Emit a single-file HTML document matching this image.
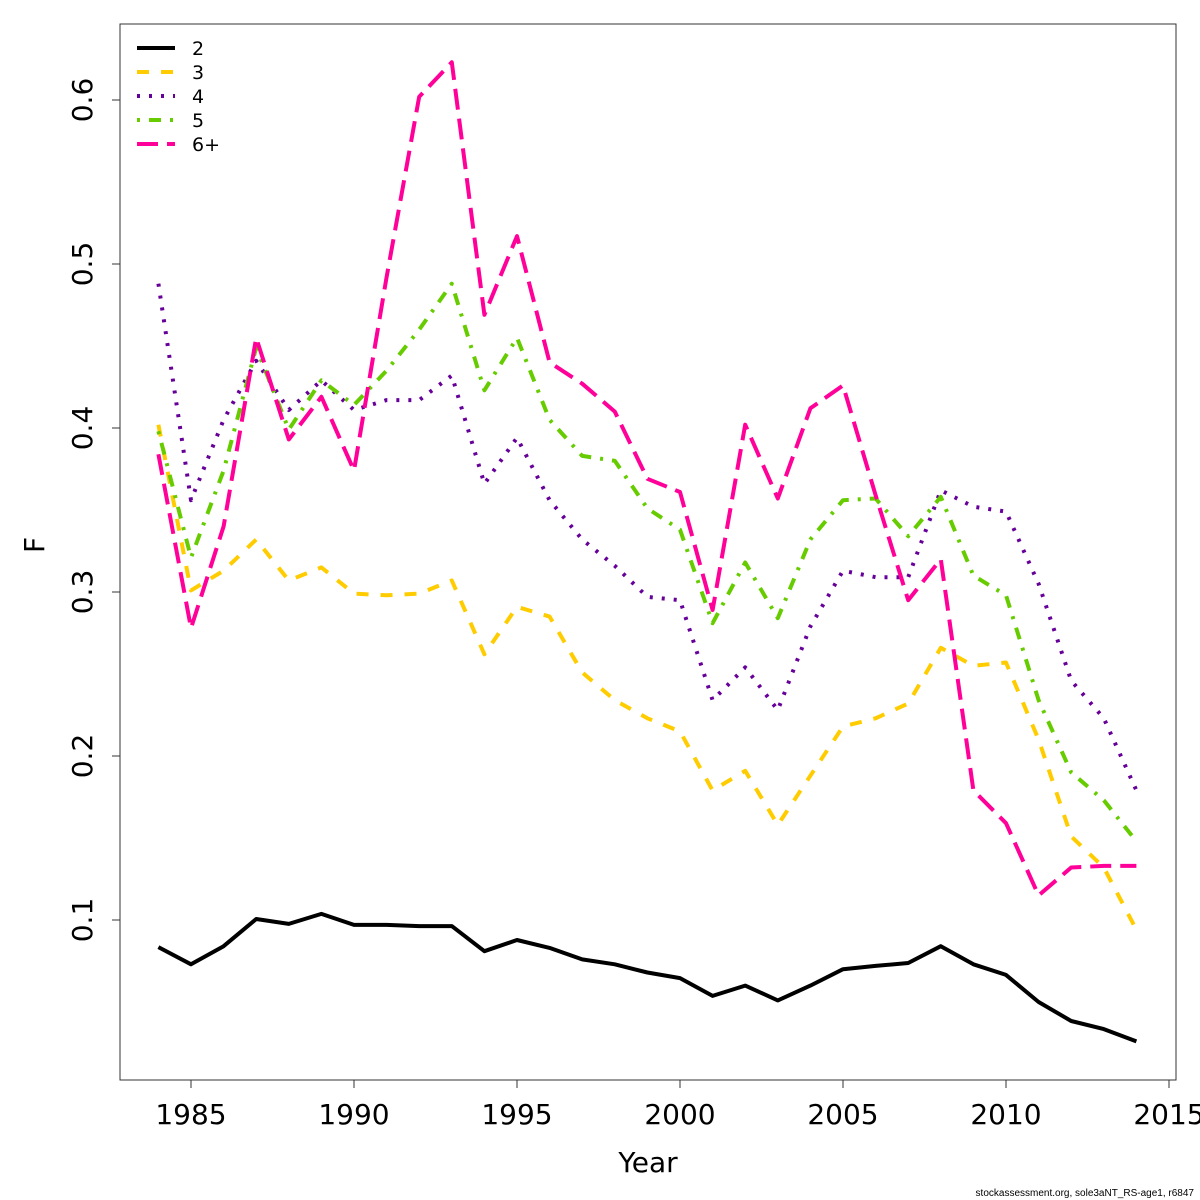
<!DOCTYPE html>
<html><head><meta charset="utf-8"><style>
html,body{margin:0;padding:0;background:#fff;}
svg{display:block;font-family:"DejaVu Sans","Liberation Sans",sans-serif;}
</style></head><body>
<svg id="chart" width="1200" height="1200" viewBox="0 0 1200 1200" xmlns="http://www.w3.org/2000/svg">
<rect x="120" y="24" width="1056" height="1056" fill="none" stroke="#333" stroke-width="1"/>
<g id="xaxis"></g>
<g id="yaxis"></g>
<g id="series"></g>
<text x="648" y="1172" font-size="28" text-anchor="middle">Year</text>
<text transform="translate(44,545) rotate(-90)" font-size="28" text-anchor="middle">F</text>
<text x="1194" y="1196" font-size="10" text-anchor="end" font-family="Liberation Sans, sans-serif">stockassessment.org, sole3aNT_RS-age1, r6847</text>
<g id="legend"></g>
</svg>
<script>
const years = [1984,1985,1986,1987,1988,1989,1990,1991,1992,1993,1994,1995,1996,1997,1998,1999,2000,2001,2002,2003,2004,2005,2006,2007,2008,2009,2010,2011,2012,2013,2014];
const age2 = [0.0835,0.073,0.084,0.1006,0.0976,0.1037,0.097,0.097,0.0963,0.0963,0.081,0.0878,0.083,0.076,0.073,0.068,0.0646,0.0537,0.060,0.051,0.060,0.070,0.072,0.0738,0.084,0.073,0.0665,0.050,0.0384,0.0335,0.026];
const age3 = [0.402,0.301,0.313,0.332,0.307,0.315,0.299,0.298,0.299,0.307,0.262,0.291,0.285,0.251,0.234,0.223,0.215,0.179,0.191,0.158,0.188,0.218,0.223,0.232,0.266,0.255,0.257,0.21,0.151,0.132,0.094];
const age4 = [0.488,0.356,0.405,0.441,0.411,0.429,0.411,0.417,0.417,0.432,0.366,0.394,0.356,0.332,0.316,0.297,0.295,0.234,0.254,0.228,0.279,0.313,0.309,0.309,0.362,0.352,0.349,0.305,0.246,0.223,0.179];
const age5 = [0.398,0.321,0.374,0.449,0.399,0.429,0.414,0.435,0.46,0.488,0.423,0.455,0.405,0.383,0.38,0.351,0.338,0.281,0.318,0.284,0.332,0.356,0.357,0.334,0.358,0.31,0.298,0.234,0.19,0.173,0.148];
const age6 = [0.384,0.278,0.34,0.455,0.393,0.419,0.374,0.492,0.602,0.623,0.469,0.517,0.44,0.427,0.41,0.369,0.361,0.289,0.402,0.357,0.412,0.426,0.359,0.295,0.32,0.179,0.159,0.115,0.132,0.133,0.133];
const xTicks = [1985,1990,1995,2000,2005,2010,2015];
const yTicks = [0.1,0.2,0.3,0.4,0.5,0.6];
const seriesLabels = ["2","3","4","5","6+"];

const NS="http://www.w3.org/2000/svg";
function xs(v){return 191+(v-1985)*32.6;}
function ys(v){return 920-(v-0.1)*1640;}
function mk(tag,attrs,parent){const e=document.createElementNS(NS,tag);for(const k in attrs)e.setAttribute(k,attrs[k]);parent.appendChild(e);return e;}

const xa=document.getElementById('xaxis');
mk('line',{x1:xs(1985),x2:xs(2015),y1:1080,y2:1080,stroke:'#333'},xa);
xTicks.forEach(t=>{
  const l=mk('line',{x1:xs(t),x2:xs(t),y1:1080,y2:1088,stroke:'#333'},xa);
  
  
  const tx=mk('text',{x:xs(t),y:1124,'font-size':28,'text-anchor':'middle'},xa);
  tx.textContent=t;
  
  
});
const ya=document.getElementById('yaxis');
mk('line',{x1:120,x2:120,y1:ys(0.1),y2:ys(0.6),stroke:'#333'},ya);
yTicks.forEach(t=>{
  const l=mk('line',{x1:112,x2:120,y1:ys(t),y2:ys(t),stroke:'#333'},ya);
  
  
  const tx=mk('text',{transform:`translate(92,${ys(t)}) rotate(-90)`,'font-size':28,'text-anchor':'middle'},ya);
  tx.textContent=t.toFixed(1);
  
  
});
const data=[age2,age3,age4,age5,age6];
const colors=['#000000','#FFCC00','#660099','#66CC00','#FF0099'];
const dashes=['none','12,12','3,9','3,9,12,9','21,9'];
const sg=document.getElementById('series');
data.forEach((arr,i)=>{
  const d=arr.map((v,j)=>(j?'L':'M')+xs(years[j]).toFixed(1)+','+ys(v).toFixed(1)).join(' ');
  const p=mk('path',{d:d,fill:'none',stroke:colors[i],'stroke-width':4,'stroke-dasharray':dashes[i],'stroke-linejoin':'round'},sg);
  
  
});
const lg=document.getElementById('legend');
seriesLabels.forEach((s,i)=>{
  const y=48+i*24;
  const l=mk('line',{x1:137,x2:175,y1:y,y2:y,stroke:colors[i],'stroke-width':4,'stroke-dasharray':dashes[i]},lg);
  
  
  const t=mk('text',{x:192,y:y+7,'font-size':19},lg);
  t.textContent=s;
  
  
});
</script>
</body></html>
